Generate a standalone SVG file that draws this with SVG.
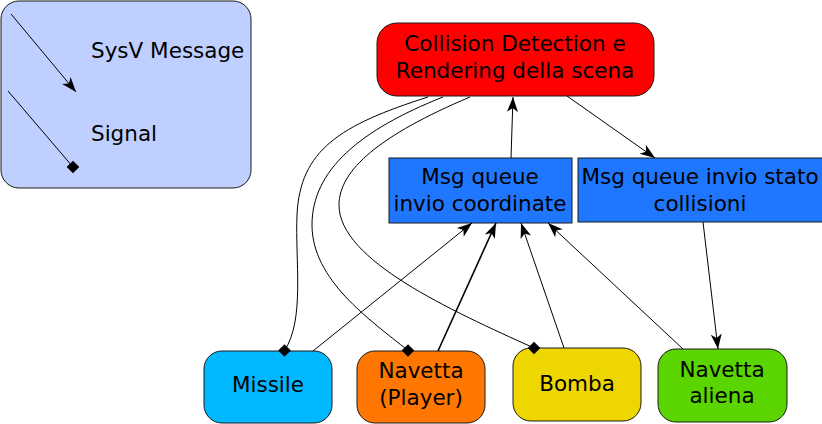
<svg xmlns="http://www.w3.org/2000/svg" width="822" height="424" viewBox="0 0 822 424">
<style>
  .box { stroke: #1a1a1a; stroke-width: 1; }
  .t { font-family: "DejaVu Sans", "Liberation Sans", sans-serif; font-size: 21.5px; fill: #000; text-anchor: middle; }
  .tl { font-family: "DejaVu Sans", "Liberation Sans", sans-serif; font-size: 21.5px; fill: #000; }
  .c { fill: none; stroke: #000; stroke-width: 1; }
  .msg { marker-end: url(#arrow); }
  .sig { marker-end: url(#diamond); }
</style>
<defs>
  <marker id="arrow" markerUnits="userSpaceOnUse" markerWidth="20" markerHeight="20" refX="0" refY="0" orient="auto" overflow="visible">
    <path d="M0,0 L-15,-5.5 L-11,0 L-15,5.5 Z" fill="#000"/>
  </marker>
  <marker id="diamond" markerUnits="userSpaceOnUse" markerWidth="20" markerHeight="20" refX="0" refY="0" orient="0" overflow="visible">
    <path d="M0,-6.3 L6.3,0 L0,6.3 L-6.3,0 Z" fill="#000"/>
  </marker>
</defs>

<g id="legend">
  <rect class="box" x="1" y="1" width="250" height="187" rx="18" fill="#bfcfff"/>
  <line class="c msg" x1="11" y1="14" x2="76" y2="92"/>
  <line class="c sig" x1="8" y1="91" x2="73" y2="167"/>
  <text class="tl" x="91" y="58">SysV Message</text>
  <text class="tl" x="91" y="141">Signal</text>
</g>

<g id="collision">
  <rect class="box" x="377" y="23" width="277" height="73" rx="20" fill="#ff0000"/>
  <text class="t" x="515" y="51">Collision Detection e</text>
  <text class="t" x="515" y="78">Rendering della scena</text>
</g>

<g id="queue-coord">
  <rect class="box" x="389" y="158" width="183" height="65" fill="#1f77ff"/>
  <text class="t" x="480" y="184">Msg queue</text>
  <text class="t" x="480" y="211">invio coordinate</text>
</g>

<g id="queue-stato">
  <rect class="box" x="578" y="158" width="246" height="64" fill="#1f77ff"/>
  <text class="t" x="700" y="184">Msg queue invio stato</text>
  <text class="t" x="700" y="211">collisioni</text>
</g>

<g id="missile">
  <rect class="box" x="204" y="351" width="128" height="72" rx="18" fill="#00b8ff"/>
  <text class="t" x="268" y="392">Missile</text>
</g>

<g id="navetta-player">
  <rect class="box" x="357" y="351" width="128" height="72" rx="18" fill="#ff7700"/>
  <text class="t" x="421" y="378">Navetta</text>
  <text class="t" x="421" y="405">(Player)</text>
</g>

<g id="bomba">
  <rect class="box" x="513" y="348" width="128" height="73" rx="18" fill="#eed600"/>
  <text class="t" x="577" y="391">Bomba</text>
</g>

<g id="navetta-aliena">
  <rect class="box" x="658" y="349" width="129" height="73" rx="18" fill="#5ad500"/>
  <text class="t" x="722" y="377">Navetta</text>
  <text class="t" x="722" y="403">aliena</text>
</g>

<g id="connectors">
  <line class="c msg" x1="511" y1="158" x2="513" y2="97"/>
  <line class="c msg" x1="567" y1="96" x2="655" y2="158"/>
  <line class="c msg" x1="703" y1="222" x2="718" y2="349"/>
  <line class="c msg" x1="313" y1="351" x2="472" y2="223"/>
  <line class="c msg" x1="438" y1="351" x2="496" y2="223" style="stroke-width:1.6"/>
  <line class="c msg" x1="564" y1="348" x2="521" y2="223"/>
  <line class="c msg" x1="683" y1="349" x2="548" y2="223"/>
  <path class="c sig" d="M428,97 C340,125 300,150 297,215 C295,260 305,320 284.5,350.5"/>
  <path class="c sig" d="M443,97 C360,130 312,170 312,225 C312,280 370,320 408,350.5"/>
  <path class="c sig" d="M470,97 C380,135 339,170 339,205 C339,260 450,310 534,348"/>
</g>
</svg>
